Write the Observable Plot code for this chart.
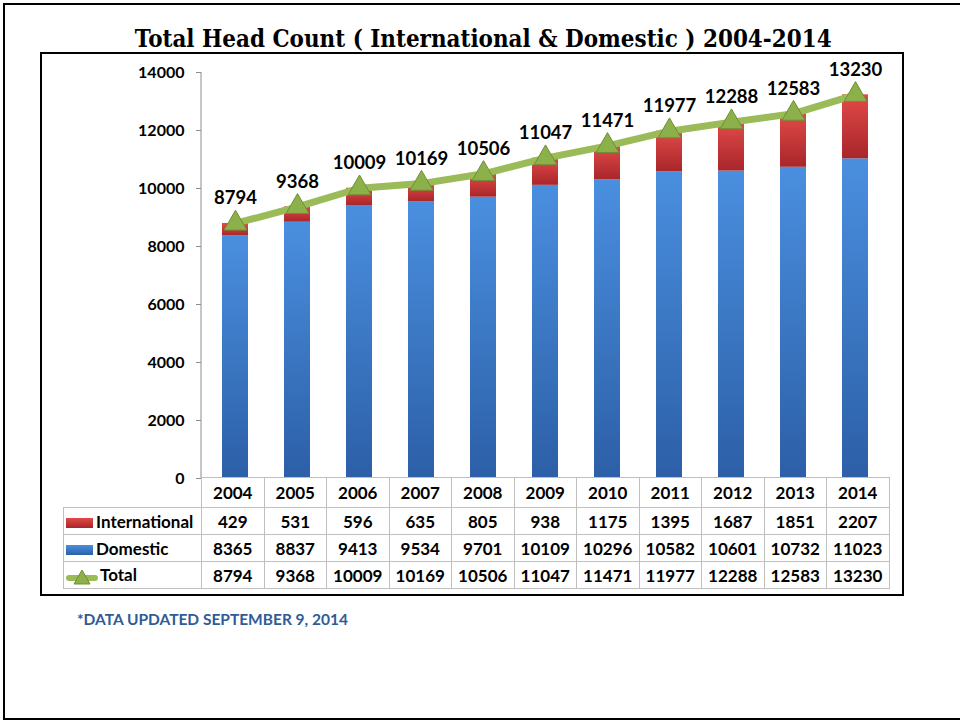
<!DOCTYPE html>
<html><head><meta charset="utf-8">
<script src="https://cdn.jsdelivr.net/npm/d3@7"></script>
<script src="https://cdn.jsdelivr.net/npm/@observablehq/plot@0.6"></script>
<style>
body{margin:0;background:#fff;}
#wrap{position:relative;width:960px;height:721px;overflow:hidden;font-family:Lato,sans-serif;}
#outer{position:absolute;left:3px;top:3px;width:980px;height:713px;border:2px solid #000;box-sizing:content-box;}
#box{position:absolute;left:40px;top:52px;width:860px;height:540px;border:2px solid #000;}
#title{position:absolute;left:0;top:23px;width:966px;text-align:center;font-family:"DejaVu Serif",serif;font-weight:bold;font-size:25px;line-height:32px;white-space:nowrap;}
#title span{display:inline-block;transform-origin:center;}
#plot{position:absolute;left:0;top:0;}
#tbl{position:absolute;left:63px;top:477px;border-collapse:collapse;font-weight:bold;font-size:17px;table-layout:fixed;}
#tbl td{border:1px solid #bfbfbf;text-align:center;padding:0;height:26px;white-space:nowrap;}
#tbl tr.hdr td{height:29px;}
#tbl tr.hdr td.blank{border:none;border-right:1px solid #bfbfbf;}
#tbl td.lab{text-align:left;padding-left:2px;}
.key{display:inline-block;vertical-align:middle;margin-right:2px;}
#note{position:absolute;left:77px;top:610px;font-weight:bold;font-size:15.5px;color:#2f5b97;}
</style></head>
<body>
<div id="wrap">
  <div id="outer"></div>
  <div id="box"></div>
  <div id="title"><span>Total Head Count ( International &amp; Domestic ) 2004-2014</span></div>
  <div id="plot"></div>
  <table id="tbl"></table>
  <div id="note">*DATA UPDATED SEPTEMBER 9, 2014</div>
</div>
<script>
const years = ["2004","2005","2006","2007","2008","2009","2010","2011","2012","2013","2014"];
const international = [429,531,596,635,805,938,1175,1395,1687,1851,2207];
const domestic = [8365,8837,9413,9534,9701,10109,10296,10582,10601,10732,11023];
const total = [8794,9368,10009,10169,10506,11047,11471,11977,12288,12583,13230];
const yTicks = [0,2000,4000,6000,8000,10000,12000,14000];

const rows = years.map((yr, i) => ({year: yr, dom: domestic[i], intl: international[i], total: total[i]}));

const NS = "http://www.w3.org/2000/svg";
function defsMark(index, scales, values, dimensions) {
  const g = document.createElementNS(NS, "g");
  g.innerHTML = `
  <defs>
    <linearGradient id="gBlue" x1="0" y1="0" x2="0" y2="1">
      <stop offset="0" stop-color="#4a8fdf"/>
      <stop offset="1" stop-color="#2c5fa7"/>
    </linearGradient>
    <linearGradient id="gRed" x1="0" y1="0" x2="0" y2="1">
      <stop offset="0" stop-color="#e24a48"/>
      <stop offset="1" stop-color="#a8262a"/>
    </linearGradient>
  </defs>`;
  const ml = dimensions ? dimensions.marginLeft : 201;
  const line = document.createElementNS(NS, "line");
  line.setAttribute("x1", ml); line.setAttribute("x2", ml);
  line.setAttribute("y1", scales.y(0)); line.setAttribute("y2", scales.y(14000));
  line.setAttribute("stroke", "#8c8c8c"); line.setAttribute("stroke-width", "1");
  g.appendChild(line);
  return g;
}

const chart = Plot.plot({
  width: 960,
  height: 480,
  marginLeft: 201,
  marginRight: 71,
  marginTop: 72,
  marginBottom: 2,
  style: {background: "transparent", fontFamily: "Lato, sans-serif", overflow: "visible"},
  x: {domain: years, paddingInner: 0.58, paddingOuter: 0.29, axis: null},
  y: {domain: [0, 14000], axis: null},
  marks: [
    defsMark,
    Plot.axisY({ticks: yTicks, tickSize: 5, tickPadding: 12, fontSize: 16, fontWeight: "bold", stroke: "#8c8c8c", fill: "#000", tickFormat: d => String(d)}),
    Plot.barY(rows, {x: "year", y1: 0, y2: "dom", fill: "url(#gBlue)"}),
    Plot.barY(rows, {x: "year", y1: "dom", y2: "total", fill: "url(#gRed)"}),
    Plot.line(rows, {x: "year", y: "total", stroke: "#9bbb59", strokeWidth: 7, strokeLinecap: "round", strokeLinejoin: "round"}),
    Plot.dot(rows, {x: "year", y: "total", symbol: "triangle", r: 8.5, fill: "#8db14a", stroke: "#6e8f34", strokeWidth: 1}),
    Plot.text(rows, {x: "year", y: "total", text: d => String(d.total), dy: -25, fontSize: 18.5, fontWeight: "bold", fill: "#000"})
  ]
});
document.getElementById("plot").appendChild(chart);

// data table
const tbl = document.getElementById("tbl");
const colW = 62.5;
let html = `<colgroup><col style="width:138px">${years.map(() => `<col style="width:${colW}px">`).join("")}</colgroup>`;
html += `<tr class="hdr"><td class="blank"></td>${years.map(y => `<td>${y}</td>`).join("")}</tr>`;
const redKey = `<svg class="key" width="28" height="12"><defs><linearGradient id="kr" x1="0" y1="0" x2="0" y2="1"><stop offset="0" stop-color="#e24a48"/><stop offset="1" stop-color="#a8262a"/></linearGradient></defs><rect x="0" y="1" width="27" height="10" fill="url(#kr)"/></svg>`;
const blueKey = `<svg class="key" width="28" height="12"><defs><linearGradient id="kb" x1="0" y1="0" x2="0" y2="1"><stop offset="0" stop-color="#4a8fdf"/><stop offset="1" stop-color="#2c5fa7"/></linearGradient></defs><rect x="0" y="1" width="27" height="10" fill="url(#kb)"/></svg>`;
const greenKey = `<svg class="key" width="32" height="18"><line x1="3" x2="29" y1="10" y2="10" stroke="#9bbb59" stroke-width="6" stroke-linecap="round"/><path d="M16,2 L24,16 L8,16 Z" fill="#8db14a" stroke="#6e8f34" stroke-width="1"/></svg>`;
html += `<tr><td class="lab">${redKey}International</td>${international.map(v => `<td>${v}</td>`).join("")}</tr>`;
html += `<tr><td class="lab">${blueKey}Domestic</td>${domestic.map(v => `<td>${v}</td>`).join("")}</tr>`;
html += `<tr><td class="lab">${greenKey}Total</td>${total.map(v => `<td>${v}</td>`).join("")}</tr>`;
tbl.innerHTML = html;

// fit title width to reference (~697px)
const span = document.querySelector("#title span");
const w = span.getBoundingClientRect().width;
span.style.transform = `scaleX(${697 / w})`;
</script>
</body></html>
